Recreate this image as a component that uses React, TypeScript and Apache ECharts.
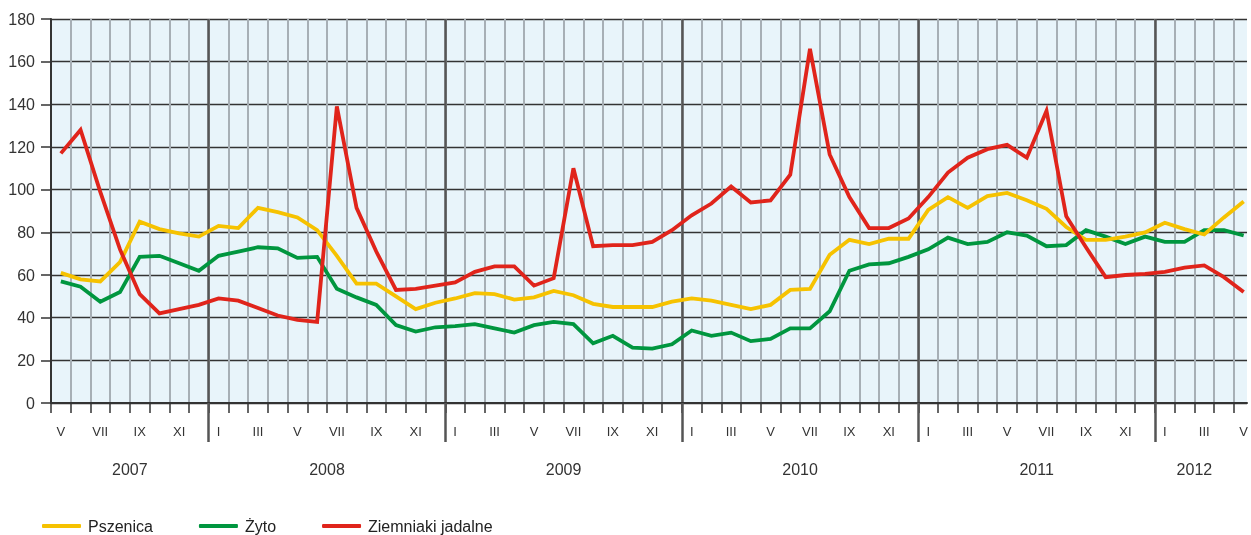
import React, { useEffect, useRef } from "react";
import * as echarts from "echarts";

// Month index counted from January 2007 (0 = I 2007); first observation is May 2007.
const startMonth = 4;
const firstYear = 2007;
const monthNumerals = ["I", "II", "III", "IV", "V", "VI", "VII", "VIII", "IX", "X", "XI", "XII"];
const yearLabelCenters = [8, 18, 30, 42, 54, 62];
const yTicks = { min: 0, max: 180, interval: 20 };

const seriesNames = ["Pszenica", "Żyto", "Ziemniaki jadalne"];

const wheat = [
  61, 58, 57, 66, 85, 81.5, 79.5, 78,
  83, 82, 91.5, 89.5, 87, 81, 69, 56, 56, 50, 44, 47,
  49, 51.5, 51, 48.5, 49.5, 52.5, 50.5, 46.5, 45, 45, 45, 47.5,
  49, 48, 46, 44, 46, 53, 53.5, 69.5, 76.5, 74.5, 77, 77,
  90.5, 96.5, 91.5, 97, 98.5, 95, 91, 82.5, 76.5, 76.5, 78, 80,
  84.5, 81.5, 79, 87, 94.5,
];

const rye = [
  57, 54.5, 47.5, 52, 68.5, 69, 65.5, 62,
  69, 71, 73, 72.5, 68, 68.5, 53.5, 49.5, 46, 36.5, 33.5, 35.5,
  36, 37, 35, 33, 36.5, 38, 37, 28, 31.5, 26, 25.5, 27.5,
  34, 31.5, 33, 29, 30, 35, 35, 43, 62, 65, 65.5, 68.5,
  72, 77.5, 74.5, 75.5, 80, 78.5, 73.5, 74, 81, 78, 74.5, 78,
  75.5, 75.5, 81, 81, 78.5,
];

const potatoes = [
  117, 128, 99, 72, 51, 42, 44, 46,
  49, 48, 44.5, 41, 39, 38, 139, 91.5, 71, 53, 53.5, 55,
  56.5, 61.5, 64, 64, 55, 58.5, 110, 73.5, 74, 74, 75.5, 81,
  88, 93.5, 101.5, 94, 95, 107, 166, 116.5, 96.5, 82, 82, 86.5,
  96.5, 108, 115, 119, 121, 115, 137, 87.5, 73, 59, 60, 60.5,
  61.5, 63.5, 64.5, 59, 52,
];

const colors = ["#f6c200", "#00963f", "#e0241b"];

const toPoints = (vals: number[]) => vals.map((v, i) => [startMonth + i + 0.5, v]);

export default function App() {
  const ref = useRef<HTMLDivElement>(null);

  useEffect(() => {
    if (!ref.current) return;
    const chart = echarts.init(ref.current, undefined, { renderer: "svg" });
    const n = wheat.length;
    const xMin = startMonth;
    const xMax = startMonth + 60.67;
    const monthBounds: number[] = [];
    for (let m = xMin; m <= Math.floor(xMax); m++) monthBounds.push(m);
    const monthLabelPos: number[] = [];
    for (let i = 0; i < n; i++) {
      const m = startMonth + i;
      if (m % 2 === 0) monthLabelPos.push(m + 0.5);
    }
    const yearBounds: number[] = [];
    for (let m = 12; m <= xMax; m += 12) yearBounds.push(m);

    const font = "'Liberation Sans', Arial, sans-serif";

    chart.setOption({
      animation: false,
      textStyle: { fontFamily: font },
      grid: {
        left: 51,
        right: 0,
        top: 19,
        bottom: 132,
        show: true,
        backgroundColor: "#e8f4fa",
        borderWidth: 0,
      },
      legend: {
        left: 37,
        top: 513,
        icon: "roundRect",
        itemWidth: 39,
        itemHeight: 4,
        itemGap: 46,
        textStyle: { fontSize: 16, color: "#222", fontFamily: font, padding: [0, 0, 0, 2] },
        data: seriesNames,
      },
      xAxis: [
        {
          type: "value",
          min: xMin,
          max: xMax,
          position: "bottom",
          axisLine: { show: true, onZero: false, lineStyle: { color: "#333", width: 2 } },
          axisTick: {
            show: true,
            customValues: monthBounds,
            length: 10,
            lineStyle: { color: "#333", width: 1.5 },
          },
          splitLine: { show: true, lineStyle: { color: "#a7afb5", width: 2 } },
          axisLabel: {
            show: true,
            customValues: monthLabelPos,
            margin: 22,
            fontSize: 13,
            color: "#333",
            fontFamily: font,
            formatter: (v: number) => monthNumerals[Math.floor(v) % 12],
          },
        },
        {
          type: "value",
          min: xMin,
          max: xMax,
          position: "bottom",
          axisLine: { show: false },
          axisTick: {
            show: true,
            customValues: yearBounds,
            length: 39,
            lineStyle: { color: "#555", width: 2.5 },
          },
          splitLine: { show: true, lineStyle: { color: "#555", width: 2.5 } },
          axisLabel: {
            show: true,
            customValues: yearLabelCenters,
            margin: 58,
            fontSize: 16,
            color: "#333",
            fontFamily: font,
            formatter: (v: number) => String(firstYear + Math.floor(v / 12)),
          },
        },
      ],
      yAxis: {
        type: "value",
        min: yTicks.min,
        max: yTicks.max,
        interval: yTicks.interval,
        axisLine: { show: true, lineStyle: { color: "#333", width: 2 } },
        axisTick: { show: true, length: 10, lineStyle: { color: "#333", width: 1.5 } },
        splitLine: { show: true, lineStyle: { color: "#333", width: 1.3 } },
        axisLabel: { fontSize: 16, color: "#333", margin: 16, fontFamily: font },
      },
      series: [
        { name: seriesNames[1], data: toPoints(rye), color: colors[1], z: 3 },
        { name: seriesNames[0], data: toPoints(wheat), color: colors[0], z: 4 },
        { name: seriesNames[2], data: toPoints(potatoes), color: colors[2], z: 5 },
      ].map((s) => ({
        ...s,
        type: "line",
        xAxisIndex: 0,
        symbol: "none",
        lineStyle: { width: 3.8, color: s.color, join: "miter", cap: "butt" },
        itemStyle: { color: s.color },
      })),
    });
    return () => chart.dispose();
  }, []);

  return (
    <div
      ref={ref}
      style={{ position: "fixed", left: 0, top: 0, width: 1251, height: 535 }}
    />
  );
}
